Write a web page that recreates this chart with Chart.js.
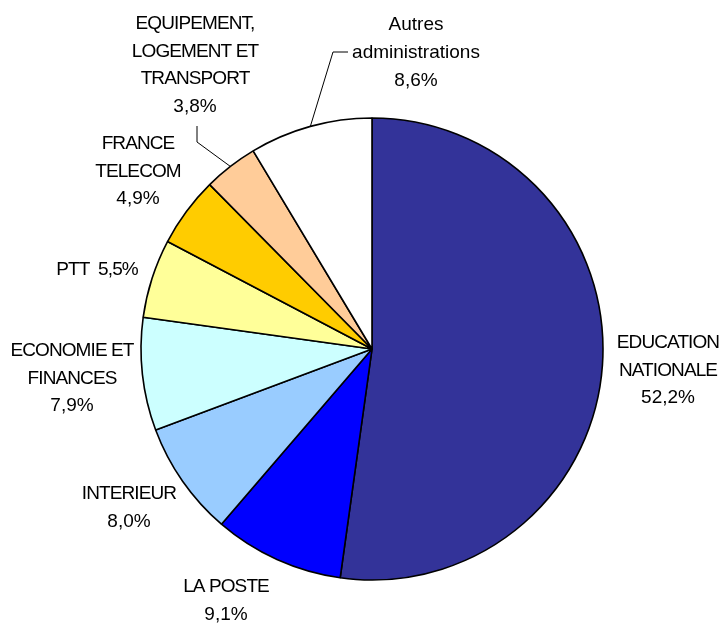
<!DOCTYPE html>
<html>
  <head>
    <title>Répartition par administration</title>
    <style>
      body { margin: 0; background: #fff; }
    </style>
  </head>
  <body>
    <script src="https://cdn.jsdelivr.net/npm/chart.js@4.4.0/dist/chart.umd.min.js"></script>

    <canvas id="pieChart" width="725" height="626"></canvas>

    <script>
      // Données (en %)
      const categories = [
        "EDUCATION NATIONALE",
        "LA POSTE",
        "INTERIEUR",
        "ECONOMIE ET FINANCES",
        "PTT",
        "FRANCE TELECOM",
        "EQUIPEMENT, LOGEMENT ET TRANSPORT",
        "Autres administrations"
      ];
      const shares = [52.2, 9.1, 8.0, 7.9, 5.5, 4.9, 3.8, 8.6];
      const colors = ["#333399", "#0000FF", "#99CCFF", "#CCFFFF", "#FFFF99", "#FFCC00", "#FFCC99", "#FFFFFF"];

      // Texte des étiquettes (lignes), le pourcentage est ajouté à la fin
      const labelLines = [
        ["EDUCATION", "NATIONALE"],
        ["LA POSTE"],
        ["INTERIEUR"],
        ["ECONOMIE ET", "FINANCES"],
        ["PTT"],
        ["FRANCE", "TELECOM"],
        ["EQUIPEMENT,", "LOGEMENT ET", "TRANSPORT"],
        ["Autres", "administrations"]
      ];

      // Mise en page des étiquettes, relative au centre du camembert
      const labelPos = [
        { dx: 296, dy: -6 },
        { dx: -146, dy: 238 },
        { dx: -243, dy: 145 },
        { dx: -300, dy: 2 },
        { dx: -275, dy: -79, inline: true },
        { dx: -234, dy: -205 },
        { dx: -177, dy: -325, leader: [[-175, -223], [-175, -207]] },
        { dx: 44, dy: -324, leader: [[-24, -297], [-39, -297]], lh: 28 }
      ];

      function fmt(v) {
        return v.toFixed(1).replace(".", ",") + "%";
      }

      // Plugin pour dessiner les étiquettes et les traits de rappel
      const pieLabels = {
        id: "pieLabels",
        afterDatasetsDraw(chart) {
          const ctx = chart.ctx;
          const meta = chart.getDatasetMeta(0);
          ctx.save();
          ctx.fillStyle = "#000";
          ctx.strokeStyle = "#000";
          ctx.textAlign = "center";
          ctx.textBaseline = "middle";
          ctx.font = "19px 'Liberation Sans', Arial, sans-serif";

          meta.data.forEach((arc, i) => {
            const p = labelPos[i];
            const cx = arc.x, cy = arc.y;
            let lines = labelLines[i].slice();
            if (p.inline) {
              lines = [lines[0] + "  " + fmt(shares[i])];
            } else {
              lines.push(fmt(shares[i]));
            }
            const lh = p.lh || 27.5;
            lines.forEach((t, k) => {
              ctx.letterSpacing = (t === t.toUpperCase() && /[A-Z]{3}/.test(t)) ? "-0.9px" : "0px";
              ctx.fillText(t, cx + p.dx, cy + p.dy + k * lh);
            });

            if (p.leader) {
              const mid = (arc.startAngle + arc.endAngle) / 2;
              const r = arc.outerRadius;
              ctx.lineWidth = 1;
              ctx.beginPath();
              ctx.moveTo(cx + p.leader[0][0], cy + p.leader[0][1]);
              ctx.lineTo(cx + p.leader[1][0], cy + p.leader[1][1]);
              ctx.lineTo(cx + Math.cos(mid) * r, cy + Math.sin(mid) * r);
              ctx.stroke();
            }
          });
          ctx.restore();
        }
      };

      const ctx = document.getElementById("pieChart").getContext("2d");

      const chart = new Chart(ctx, {
        type: "pie",
        data: {
          labels: categories,
          datasets: [{
            data: shares,
            backgroundColor: colors,
            borderColor: "#000000",
            borderWidth: 1.6,
            hoverOffset: 0
          }]
        },
        options: {
          responsive: false,
          animation: false,
          radius: 231,
          layout: {
            padding: { left: 141, right: 122, top: 118, bottom: 46 }
          },
          plugins: {
            legend: { display: false },
            tooltip: { enabled: false }
          }
        },
        plugins: [pieLabels]
      });
    </script>
  </body>
</html>
